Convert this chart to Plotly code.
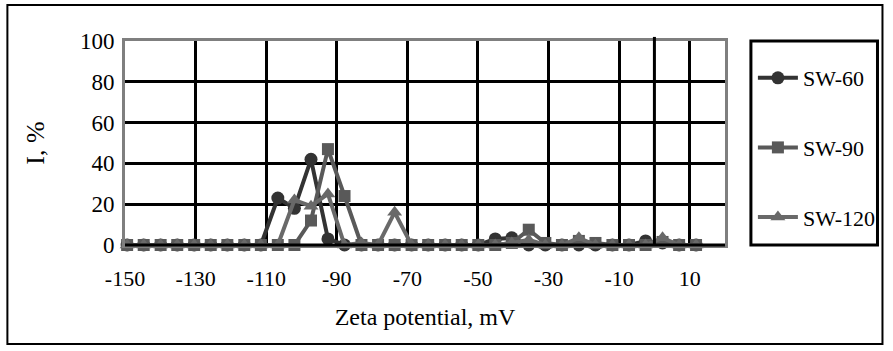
import plotly.graph_objects as go

# Zeta potential bins (mV)
zeta = [-149.4, -144.7, -139.9, -135.2, -130.4, -125.7, -121.0, -116.2, -111.5,
        -106.7, -102.0, -97.3, -92.5, -87.8, -83.0, -78.3, -73.6, -68.8, -64.1,
        -59.3, -54.6, -49.9, -45.1, -40.4, -35.6, -30.9, -26.2, -21.4, -16.7,
        -11.9, -7.2, -2.5, 2.3, 7.0, 11.8]

sw60 = [0, 0, 0, 0, 0, 0, 0, 0, 0,
        23, 18, 42, 3, 0, 0, 0, 0, 0, 0,
        0, 0, 0, 3, 3.5, 0, 0, 0, 0, 0,
        0, 0, 2, 1, 0, 0]

sw90 = [0, 0, 0, 0, 0, 0, 0, 0, 0,
        0, 0, 12, 47, 24, 0, 0, 0, 0, 0,
        0, 0, 0, 0, 1, 7.5, 1, 0, 2, 1,
        0, 0, 0, 1.5, 0, 0]

sw120 = [0, 0, 0, 0, 0, 0, 0, 0, 0,
         0, 22, 19, 25, 0, 1, 0, 16, 0, 0,
         0, 0, 0, 0, 1, 2.5, 0, 0, 3.5, 0,
         0, 0, 0, 3.5, 0, 0]

x_ticks = [-150, -130, -110, -90, -70, -50, -30, -10, 10]
y_ticks = [0, 20, 40, 60, 80, 100]

FONT = "Liberation Serif"
W, H = 893, 351
L, R, T, B = 125, 727, 41, 245

def px(xp):
    return (xp - L) / (R - L)

def py(yp):
    return (B - yp) / (B - T)

fig = go.Figure()
series = [
    ("SW-60", sw60, "#333333", "circle", 13),
    ("SW-90", sw90, "#595959", "square", 12),
    ("SW-120", sw120, "#696969", "triangle-up", 13),
]
for i, (name, vals, col, sym, sz) in enumerate(series):
    fig.add_trace(go.Scatter(
        x=zeta, y=vals, name=name, mode="lines+markers",
        line=dict(color=col, width=4),
        marker=dict(color=col, symbol=sym, size=sz),
        cliponaxis=False, legendgroup=f"g{i}",
    ))

shapes = []
# vertical line at x = 0 (value axis crossing)
shapes.append(dict(type="line", xref="x", yref="paper", x0=0, x1=0, y0=0, y1=1.02,
                   line=dict(color="black", width=3)))
# bottom axis line
shapes.append(dict(type="line", xref="paper", yref="paper", x0=0, x1=1, y0=0, y1=0,
                   line=dict(color="black", width=3)))
# legend box
shapes.append(dict(type="rect", xref="paper", yref="paper",
                   x0=px(753), x1=px(880), y0=py(245), y1=py(41),
                   line=dict(color="black", width=3)))
# outer frame
shapes.append(dict(type="rect", xref="paper", yref="paper",
                   x0=px(7), x1=px(885), y0=py(344), y1=py(5),
                   line=dict(color="black", width=2)))

fig.update_layout(
    width=W, height=H,
    margin=dict(l=L, r=W - R, t=T, b=H - B),
    paper_bgcolor="white", plot_bgcolor="white",
    font=dict(family=FONT, size=22, color="black"),
    shapes=shapes,
    showlegend=True,
    legend=dict(x=px(755), y=py(57), xanchor="left", yanchor="top",
                bgcolor="rgba(0,0,0,0)", borderwidth=0,
                tracegroupgap=38, itemwidth=40,
                font=dict(family=FONT, size=22, color="black")),
    xaxis=dict(range=[-150, 20], tickvals=x_ticks, ticktext=[str(v) for v in x_ticks],
               showgrid=True, gridcolor="black", gridwidth=3,
               zeroline=False, showline=True, linecolor="#7f7f7f", linewidth=3,
               mirror=True, ticks="", ticklabelstandoff=12,
               tickfont=dict(family=FONT, size=22),
               title=dict(text="Zeta potential, mV", standoff=18,
                          font=dict(family=FONT, size=24))),
    yaxis=dict(range=[0, 100], tickvals=y_ticks,
               showgrid=True, gridcolor="black", gridwidth=3,
               zeroline=False, showline=True, linecolor="#7f7f7f", linewidth=3,
               mirror=True, ticks="", ticklabelstandoff=3,
               tickfont=dict(family=FONT, size=23),
               title=dict(text="I, %", standoff=28,
                          font=dict(family=FONT, size=26))),
)

fig.write_html("out.html")
